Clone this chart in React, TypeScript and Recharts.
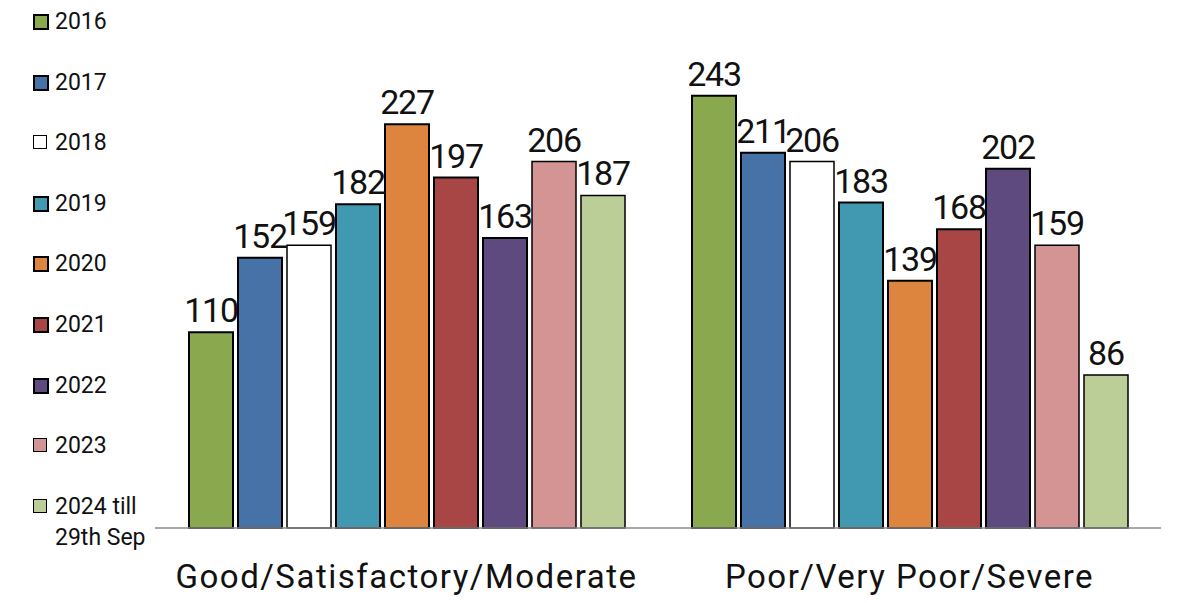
import React from 'react';
import { BarChart, Bar, XAxis, YAxis, Legend, LabelList } from 'recharts';

const categories = ['Good/Satisfactory/Moderate', 'Poor/Very Poor/Severe'];
const years = ['2016', '2017', '2018', '2019', '2020', '2021', '2022', '2023', '2024 till 29th Sep'];
const colors = ['#8AA84E', '#4672A8', '#FFFFFF', '#4099B0', '#DD843F', '#A84545', '#5E4A7E', '#D49494', '#BBCE98'];
const strokeWidths = [2, 2, 1.5, 2, 2, 2, 2, 1.5, 1.5];
const goodValues = [110, 152, 159, 182, 227, 197, 163, 206, 187];
const poorValues = [243, 211, 206, 183, 139, 168, 202, 159, 86];

const data = categories.map((name, i) => {
  const row: Record<string, string | number> = { name };
  const vals = i === 0 ? goodValues : poorValues;
  years.forEach((y, j) => {
    row[y] = vals[j];
  });
  return row;
});

const FONT = 'Roboto, "Noto Sans", sans-serif';

const LegendContent = () => (
  <div style={{ fontFamily: FONT, fontSize: 23, color: '#111' }}>
    {years.map((y, i) => {
      const lines = y === '2024 till 29th Sep' ? ['2024 till', '29th Sep'] : [y];
      return (
        <div
          key={y}
          style={{ position: 'absolute', left: 33, top: 6 + i * 60.6, lineHeight: '31px' }}
        >
          <span
            style={{
              position: 'absolute',
              left: 0,
              top: 8,
              width: 12,
              height: 12,
              background: colors[i],
              border: `${strokeWidths[i] >= 2 ? 2 : 1}px solid #000`,
            }}
          />
          <div style={{ marginLeft: 22, whiteSpace: 'nowrap' }}>
            {lines.map((l) => (
              <div key={l}>{l}</div>
            ))}
          </div>
        </div>
      );
    })}
  </div>
);

const CategoryTick = (props: any) => {
  const { x, y, payload } = props;
  return (
    <text x={x} y={y + 52} textAnchor="middle" fontSize={33} fontFamily={FONT} fill="#111" letterSpacing={1.5}>
      {payload.value}
    </text>
  );
};

export default function App() {
  return (
    <div style={{ position: 'absolute', left: 0, top: 0, background: '#fff' }}>
      <BarChart
        width={1200}
        height={603}
        data={data}
        margin={{ top: 30, right: 39, left: 155, bottom: 45 }}
        barSize={44}
        barGap={5}
      >
        <XAxis
          dataKey="name"
          tick={<CategoryTick />}
          tickLine={false}
          axisLine={{ stroke: '#8c8c8c', strokeWidth: 1.5 }}
          interval={0}
        />
        <YAxis hide domain={[0, 280]} />
        <Legend
          layout="vertical"
          align="center"
          verticalAlign="middle"
          content={<LegendContent />}
          wrapperStyle={{ position: 'absolute', left: 0, top: 0, width: 0, height: 0 }}
        />
        {years.map((y, i) => (
          <Bar
            key={y}
            dataKey={y}
            fill={colors[i]}
            stroke="#000"
            strokeWidth={strokeWidths[i]}
            isAnimationActive={false}
          >
            <LabelList
              dataKey={y}
              position="top"
              offset={10}
              fontSize={34}
              fontFamily={FONT}
              letterSpacing={-1.2}
              fill="#111"
            />
          </Bar>
        ))}
      </BarChart>
    </div>
  );
}
